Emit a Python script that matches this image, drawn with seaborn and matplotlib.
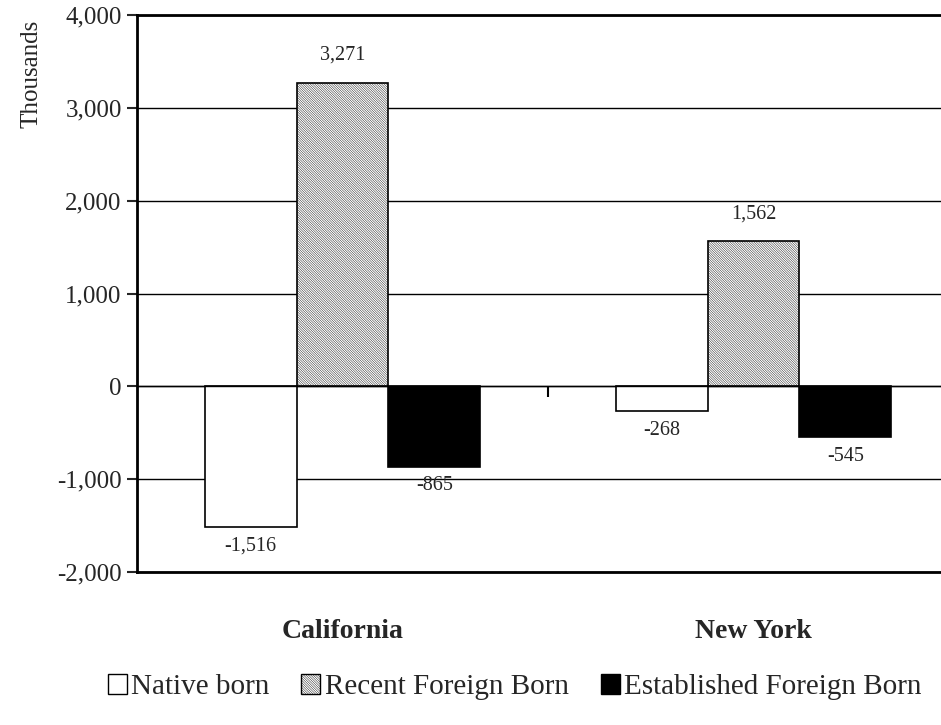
import pandas as pd
import seaborn as sns
import matplotlib.pyplot as plt
from matplotlib.patches import Patch
from matplotlib.ticker import FuncFormatter

states = ["California", "New York"]
groups = ["Native born", "Recent Foreign Born", "Established Foreign Born"]
native_born = [-1516, -268]
recent_foreign = [3271, 1562]
established_foreign = [-865, -545]

rows = []
for i, st in enumerate(states):
    rows.append((st, groups[0], native_born[i]))
    rows.append((st, groups[1], recent_foreign[i]))
    rows.append((st, groups[2], established_foreign[i]))
df = pd.DataFrame(rows, columns=["state", "group", "value"])

sns.set_style("white")
plt.rcParams["font.family"] = ["Liberation Serif", "DejaVu Serif"]
plt.rcParams["hatch.linewidth"] = 0.3

fig = plt.figure(figsize=(9.41, 7.25), dpi=100)
ax = fig.add_axes([0.1456, 0.211, 0.8544, 0.7683])

sns.barplot(data=df, x="state", y="value", hue="group", order=states,
            hue_order=groups, palette=["white", "white", "black"],
            edgecolor="black", linewidth=1.2, width=0.67, legend=False,
            saturation=1, ax=ax)

# fine diagonal hatch, reads as light gray
HATCH = "\\" * 14
for bar in ax.containers[1]:
    bar.set_hatch(HATCH)

ax.set_ylim(-2000, 4000)
ax.set_xlim(-0.5, 1.456)
ax.set_yticks(range(-2000, 4001, 1000))
ax.yaxis.set_major_formatter(FuncFormatter(lambda v, p: f"{int(v):,}"))
ax.set_axisbelow(True)
ax.yaxis.grid(True, color="black", linewidth=1.0)
ax.axhline(0, color="black", linewidth=1.0, zorder=1)

for side in ["left", "top", "bottom"]:
    ax.spines[side].set_linewidth(2)
    ax.spines[side].set_color("black")
ax.spines["right"].set_visible(False)

ax.tick_params(axis="y", which="major", direction="out", length=7, width=1.5,
               labelsize=18, left=True, pad=4)
ax.tick_params(axis="x", length=0, pad=34)
ax.set_xticks([0, 1])
ax.set_xticklabels(states, fontsize=20, fontweight="bold")
ax.set_xlabel("")
ax.set_ylabel("Thousands", fontsize=18)
ax.yaxis.set_label_coords(-0.118, 0.895)

# small category separator tick on the zero line
sec = ax.secondary_xaxis(1 / 3)
sec.spines["bottom"].set_visible(False)
sec.set_xticks([0.5])
sec.set_xticklabels([])
sec.tick_params(length=8, width=1.5, direction="out", color="black")

for cont in ax.containers:
    for bar in cont:
        v = bar.get_height()
        x = bar.get_x() + bar.get_width() / 2
        if v >= 0:
            ax.annotate(f"{int(v):,}", (x, v), xytext=(0, 13), textcoords="offset points",
                        ha="center", va="bottom", fontsize=14.5)
        else:
            ax.annotate(f"{int(v):,}", (x, v), xytext=(0, -7), textcoords="offset points",
                        ha="center", va="top", fontsize=14.5)

handles = [Patch(facecolor="white", edgecolor="black", linewidth=1),
           Patch(facecolor="white", edgecolor="black", hatch=HATCH, linewidth=1),
           Patch(facecolor="black", edgecolor="black", linewidth=1)]
fig.legend(handles, groups, loc="center", bbox_to_anchor=(0.547, 0.052), ncol=3,
           frameon=False, fontsize=21, handlelength=0.65, handleheight=0.65,
           handletextpad=0.15, columnspacing=1.1)

fig.savefig("out.png", dpi=100)
